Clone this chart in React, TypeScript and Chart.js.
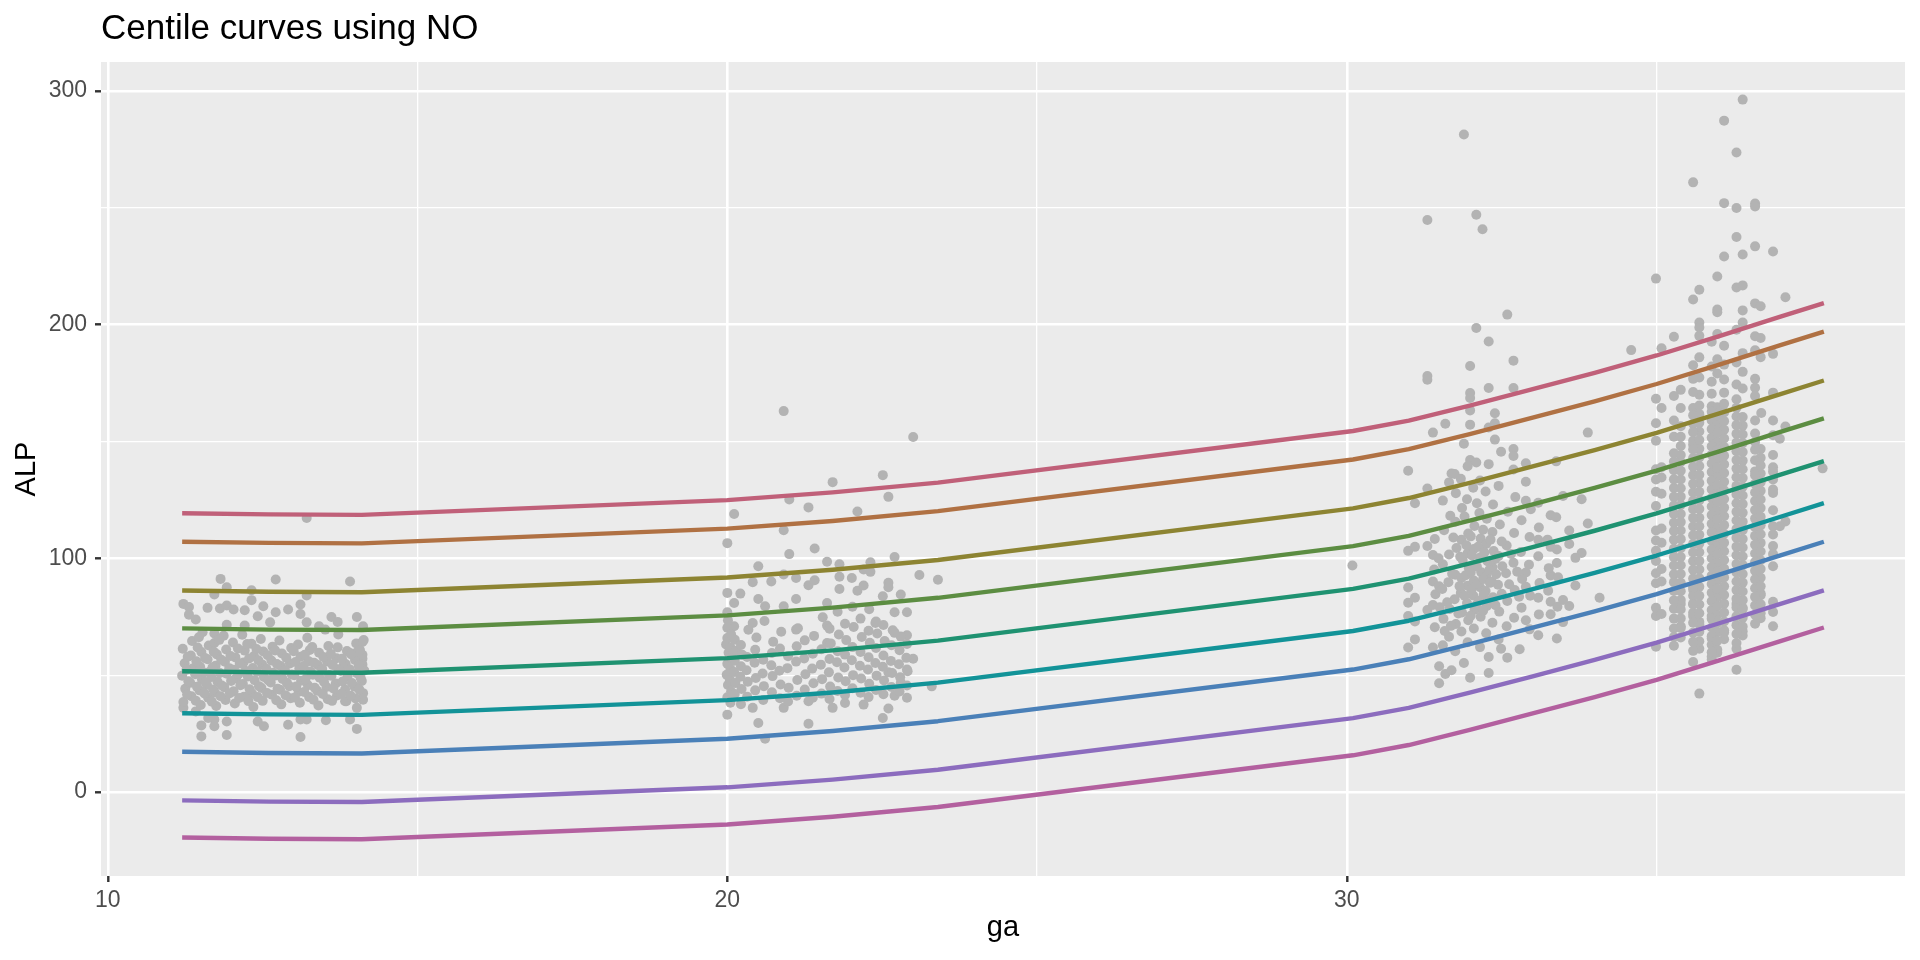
import { useEffect, useRef } from "react";
import { Chart, registerables } from "chart.js";

Chart.register(...registerables);

const FONT = "'Liberation Sans', Arial, Helvetica, sans-serif";

// gestational age values at which the fitted centiles were drawn
const curveGa = [11.2, 12.6, 14.1, 20.0, 21.7, 23.4, 30.1, 31.0, 32.0, 33.0, 34.0, 35.0, 36.0, 37.0, 37.7];

const cent99_6 = [119.3, 118.8, 118.6, 124.9, 128.2, 132.4, 154.5, 158.9, 165.5, 172.4, 179.4, 186.8, 195.0, 203.4, 209.2];
const cent98 = [107.1, 106.6, 106.4, 112.7, 116.0, 120.2, 142.3, 146.7, 153.3, 160.2, 167.2, 174.6, 182.8, 191.2, 197.0];
const cent90 = [86.2, 85.7, 85.5, 91.8, 95.1, 99.3, 121.4, 125.8, 132.4, 139.3, 146.3, 153.7, 161.9, 170.3, 176.1];
const cent75 = [70.0, 69.5, 69.3, 75.6, 78.9, 83.1, 105.2, 109.6, 116.2, 123.1, 130.1, 137.5, 145.7, 154.1, 159.9];
const cent50 = [51.7, 51.2, 51.0, 57.3, 60.6, 64.8, 86.9, 91.3, 97.9, 104.8, 111.8, 119.2, 127.4, 135.8, 141.6];
const cent25 = [33.7, 33.2, 33.0, 39.3, 42.6, 46.8, 68.9, 73.3, 79.9, 86.8, 93.8, 101.2, 109.4, 117.8, 123.6];
const cent10 = [17.2, 16.7, 16.5, 22.8, 26.1, 30.3, 52.4, 56.8, 63.4, 70.3, 77.3, 84.7, 92.9, 101.3, 107.1];
const cent2 = [-3.6, -4.1, -4.3, 2.0, 5.3, 9.5, 31.6, 36.0, 42.6, 49.5, 56.5, 63.9, 72.1, 80.5, 86.3];
const cent0_4 = [-19.5, -20.0, -20.2, -13.9, -10.6, -6.4, 15.7, 20.1, 26.7, 33.6, 40.6, 48.0, 56.2, 64.6, 70.4];

const centiles = [cent0_4, cent2, cent10, cent25, cent50, cent75, cent90, cent98, cent99_6];
const centColors = ["#B3609F", "#8C6CBE", "#4A80B8", "#129398", "#1F9271", "#5C8D42", "#8D8432", "#B07143", "#C06079"];

// observations (ga, ALP)
const cluster1: [number, number][] = [
  [13.21, 117.3],
  [11.82, 91.2], [12.71, 90.9], [13.91, 90.1], [11.92, 87.6], [11.72, 84.5], [12.32, 86.3], [13.21, 84.1],
  [11.22, 80.5], [11.31, 79.2], [11.61, 78.8], [11.81, 78.5], [11.92, 79.8], [12.03, 78.1], [12.21, 77.8],
  [12.32, 82.1], [12.51, 79.5], [12.71, 76.9], [12.91, 78.1], [13.11, 80.2], [13.11, 76.2], [11.31, 75.9],
  [11.42, 73.8], [12.42, 75.2], [13.61, 74.9], [13.71, 72.8], [14.02, 74.9], [14.12, 70.9], [11.92, 71.6],
  [12.21, 71.2], [12.62, 72.6], [13.21, 72.6], [13.41, 70.9], [13.51, 69.5], [13.72, 67.4], [11.53, 68.4],
  [11.72, 67.8], [14.11, 64.2], [13.91, 59.5], [14.02, 59.8], [14.11, 57.0], [14.11, 54.5], [13.81, 54.5],
  [11.22, 36.0], [11.42, 34.5], [11.62, 31.7], [11.72, 31.0], [11.92, 30.2], [12.42, 30.2], [12.52, 28.1],
  [12.91, 28.8], [13.11, 31.0], [13.21, 31.0], [13.52, 30.7], [13.91, 31.0], [14.02, 36.0], [14.02, 27.0],
  [11.51, 28.5], [11.72, 28.1], [11.51, 23.8], [11.92, 24.4], [13.11, 23.5], [13.83, 38.8], [14.12, 39.5],
  [11.22, 38.5], [11.25, 44.2], [11.2, 49.8], [11.24, 55.1], [11.21, 61.3],
  [11.35, 41.0], [11.33, 46.7], [11.37, 52.9], [11.34, 58.4], [11.36, 64.6],
  [11.5, 37.2], [11.48, 43.5], [11.52, 48.1], [11.49, 53.6], [11.51, 59.9], [11.47, 66.2],
  [11.62, 40.3], [11.6, 45.9], [11.64, 51.4], [11.61, 56.8], [11.63, 62.7],
  [11.75, 36.8], [11.73, 42.6], [11.77, 47.3], [11.74, 54.0], [11.76, 58.9], [11.72, 63.8],
  [11.9, 39.4], [11.88, 44.8], [11.92, 50.6], [11.89, 55.7], [11.91, 61.0], [11.87, 66.9],
  [12.05, 37.9], [12.03, 43.1], [12.07, 48.7], [12.04, 52.3], [12.06, 57.6], [12.02, 64.0],
  [12.2, 40.8], [12.18, 46.2], [12.22, 51.9], [12.19, 55.4], [12.21, 60.5], [12.17, 67.3],
  [12.35, 36.4], [12.33, 42.0], [12.37, 47.8], [12.34, 53.1], [12.36, 58.2], [12.32, 63.4],
  [12.5, 39.0], [12.48, 44.5], [12.52, 49.2], [12.49, 54.6], [12.51, 60.1], [12.47, 65.5],
  [12.65, 41.6], [12.63, 46.9], [12.67, 51.0], [12.64, 56.3], [12.66, 62.2],
  [12.8, 37.5], [12.78, 43.8], [12.82, 48.4], [12.79, 53.9], [12.81, 59.3], [12.77, 64.8],
  [12.95, 40.1], [12.93, 45.3], [12.97, 50.3], [12.94, 55.0], [12.96, 61.6],
  [13.1, 38.2], [13.08, 42.9], [13.12, 47.6], [13.09, 52.7], [13.11, 57.9], [13.07, 63.1],
  [13.25, 40.6], [13.23, 45.7], [13.27, 51.6], [13.24, 56.0], [13.26, 60.8], [13.22, 66.0],
  [13.4, 37.0], [13.38, 43.3], [13.42, 48.9], [13.39, 54.3], [13.41, 59.6],
  [13.55, 39.7], [13.53, 44.9], [13.57, 50.1], [13.54, 55.8], [13.56, 62.5],
  [13.7, 41.3], [13.68, 46.4], [13.72, 52.5], [13.69, 57.2], [13.71, 61.9],
  [13.85, 38.8], [13.83, 43.9], [13.87, 49.5], [13.84, 54.8], [13.86, 60.3],
  [14.0, 40.0], [13.98, 45.1], [14.02, 50.8], [13.99, 56.5], [14.01, 63.6],
  [14.12, 42.3], [14.1, 47.5], [14.14, 52.0], [14.11, 58.7], [14.13, 65.0],
  [11.28, 41.7], [11.3, 47.4], [11.27, 52.3], [11.29, 57.9],
  [11.42, 39.1], [11.44, 45.0], [11.41, 50.4], [11.43, 55.9], [11.45, 61.8],
  [11.56, 42.2], [11.58, 47.0], [11.55, 51.1], [11.57, 57.3],
  [11.68, 38.6], [11.7, 43.9], [11.67, 49.2], [11.69, 53.4], [11.71, 60.0],
  [11.82, 41.0], [11.84, 45.6], [11.81, 50.9], [11.83, 56.6], [11.8, 65.1],
  [11.97, 42.3], [11.99, 47.5], [11.96, 53.0], [11.98, 58.2],
  [12.12, 40.2], [12.14, 45.7], [12.11, 50.5], [12.13, 55.0], [12.1, 61.4],
  [12.27, 38.9], [12.29, 44.0], [12.26, 49.4], [12.28, 57.1], [12.25, 63.3],
  [12.42, 40.6], [12.44, 45.3], [12.41, 51.5], [12.43, 56.4], [12.4, 61.2],
  [12.57, 42.4], [12.59, 47.8], [12.56, 52.7], [12.58, 58.5],
  [12.72, 39.3], [12.74, 44.2], [12.71, 49.9], [12.73, 54.8], [12.7, 60.6],
  [12.87, 41.4], [12.89, 46.8], [12.86, 52.1], [12.88, 57.5],
  [13.02, 40.4], [13.04, 45.1], [13.01, 50.0], [13.03, 55.6], [13.0, 60.2],
  [13.17, 42.8], [13.19, 48.2], [13.16, 53.9], [13.18, 58.7],
  [13.32, 39.5], [13.34, 44.6], [13.31, 50.2], [13.33, 55.3], [13.3, 62.0],
  [13.47, 41.9], [13.49, 47.1], [13.46, 52.6], [13.48, 57.8],
  [13.62, 39.0], [13.64, 44.3], [13.61, 49.7], [13.63, 54.4], [13.6, 59.1],
  [13.77, 42.0], [13.79, 47.3], [13.76, 51.8], [13.78, 57.0],
  [13.92, 41.2], [13.94, 46.6], [13.91, 52.4], [13.93, 58.9],
  [14.06, 43.8], [14.08, 48.9], [14.05, 54.1], [14.07, 60.7],
];

const cluster2: [number, number][] = [
  [20.91, 163.0], [23.0, 151.9], [21.7, 132.6], [22.51, 135.6], [22.6, 126.3], [21.0, 125.2], [20.11, 119.0],
  [21.31, 121.8], [22.1, 120.0], [20.91, 112.0], [20.0, 106.5], [21.0, 101.8], [21.41, 104.2], [20.5, 96.6],
  [21.61, 98.5], [21.81, 97.5], [22.31, 98.3], [22.7, 100.6], [20.41, 89.8], [20.71, 90.1], [20.91, 93.1],
  [21.11, 91.6], [21.31, 88.5], [21.41, 90.6], [21.81, 92.1], [22.01, 91.6], [22.2, 95.2], [22.31, 94.2],
  [23.1, 92.9], [23.4, 90.8], [20.0, 85.2], [20.21, 84.9], [20.5, 82.6], [21.11, 82.6], [21.81, 86.9],
  [22.1, 86.1], [22.2, 88.4], [22.6, 89.5], [22.6, 87.6], [20.11, 80.9], [20.61, 79.5], [20.91, 79.5],
  [21.61, 80.9], [22.51, 83.8], [22.8, 84.5], [22.9, 76.9], [22.7, 76.9], [20.0, 76.9], [20.41, 72.3],
  [21.11, 69.5], [21.61, 71.2], [22.39, 72.3], [22.7, 68.1], [22.9, 67.1], [20.0, 65.9], [20.11, 70.9],
  [21.61, 63.8], [23.0, 57.0], [22.9, 52.4], [22.6, 51.2], [23.3, 45.2], [22.8, 46.7], [22.9, 40.3],
  [22.7, 41.2], [22.51, 31.7], [22.6, 35.7], [21.31, 29.2], [20.5, 29.5], [20.61, 22.8], [20.0, 33.1],
  [20.41, 36.0], [20.91, 36.0], [21.7, 36.0], [21.9, 38.1], [22.2, 37.4], [21.31, 38.8],
  [20.0, 40.5], [20.01, 45.8], [19.99, 50.2], [20.0, 54.9], [20.02, 59.6], [19.98, 63.1], [20.0, 70.3], [20.01, 73.5],
  [20.05, 38.2], [20.06, 43.0], [20.04, 48.1], [20.05, 52.6], [20.07, 57.3], [20.05, 61.8], [20.06, 67.5],
  [20.12, 41.9], [20.13, 46.6], [20.11, 51.4], [20.12, 56.2], [20.14, 60.4], [20.12, 65.2],
  [20.22, 37.6], [20.23, 44.1], [20.21, 49.3], [20.22, 53.8], [20.24, 58.7], [20.22, 62.9],
  [20.32, 40.8], [20.33, 47.2], [20.31, 52.1], [20.32, 57.8], [20.34, 69.4],
  [20.45, 43.5], [20.46, 48.8], [20.44, 55.3], [20.45, 60.9], [20.47, 66.1],
  [20.58, 39.4], [20.59, 45.3], [20.57, 50.7], [20.58, 56.6], [20.6, 73.2],
  [20.72, 42.7], [20.73, 49.6], [20.71, 54.2], [20.72, 59.5], [20.74, 64.3],
  [20.85, 40.1], [20.86, 46.0], [20.84, 51.9], [20.85, 61.4], [20.87, 68.6],
  [20.98, 38.7], [20.99, 44.6], [20.97, 53.0], [20.98, 58.1],
  [21.12, 41.2], [21.13, 47.9], [21.11, 55.8], [21.12, 62.4], [21.14, 70.1],
  [21.25, 43.9], [21.26, 50.4], [21.24, 57.1], [21.25, 64.9],
  [21.38, 40.3], [21.39, 46.5], [21.37, 52.8], [21.38, 59.2], [21.4, 66.8],
  [21.52, 42.1], [21.53, 48.3], [21.51, 54.5], [21.52, 61.1], [21.54, 74.8],
  [21.65, 39.8], [21.66, 45.1], [21.64, 51.2], [21.65, 56.9], [21.67, 63.6], [21.65, 69.9],
  [21.78, 43.2], [21.79, 49.0], [21.77, 55.5], [21.78, 60.2], [21.8, 67.4], [21.78, 77.1],
  [21.9, 41.5], [21.91, 47.4], [21.89, 53.3], [21.9, 58.8], [21.92, 65.0], [21.9, 72.0],
  [22.02, 44.4], [22.03, 50.0], [22.01, 56.4], [22.02, 62.0], [22.04, 70.6], [22.02, 79.3],
  [22.15, 42.5], [22.16, 48.6], [22.14, 54.0], [22.15, 59.9], [22.17, 66.3], [22.15, 74.2],
  [22.28, 40.6], [22.29, 46.3], [22.27, 52.4], [22.28, 57.7], [22.3, 63.9], [22.28, 69.0], [22.29, 78.2],
  [22.4, 43.7], [22.41, 49.8], [22.39, 55.2], [22.4, 61.6], [22.42, 67.8], [22.4, 73.0],
  [22.52, 41.8], [22.53, 47.7], [22.51, 53.6], [22.52, 58.4], [22.54, 64.6], [22.52, 71.5],
  [22.65, 44.9], [22.66, 50.9], [22.64, 56.1], [22.65, 62.8], [22.67, 69.2],
  [22.78, 43.0], [22.79, 49.1], [22.77, 54.7], [22.78, 60.7], [22.8, 66.5],
  [22.9, 45.6], [22.91, 51.7], [22.89, 57.4], [22.9, 63.3],
];

const cluster3: [number, number][] = [
  [30.09, 96.9],
  [31.89, 281.4], [31.3, 244.8], [32.09, 247.0], [32.19, 240.8], [32.59, 204.3], [32.09, 198.6], [32.29, 192.8],
  [34.59, 189.1], [32.69, 184.6], [31.99, 182.3], [31.3, 178.0], [31.3, 176.4], [32.29, 172.9], [32.69, 172.9],
  [31.99, 170.7], [31.99, 168.6], [31.99, 163.3], [32.39, 162.1], [31.59, 157.6], [31.99, 157.2], [32.29, 156.0],
  [32.39, 157.8], [31.39, 153.8], [33.89, 153.8], [32.39, 150.8], [31.89, 149.0], [32.49, 145.6], [32.69, 146.8],
  [32.69, 143.8], [31.99, 142.1], [32.09, 141.0], [32.29, 140.3], [30.99, 137.5], [32.89, 140.7], [33.38, 141.5],
  [31.69, 136.3], [32.69, 138.0], [32.89, 132.8], [31.3, 129.9], [31.1, 123.6], [33.49, 126.7], [33.79, 125.3],
  [32.89, 124.6], [33.09, 123.8], [33.29, 118.4], [33.38, 117.6], [33.89, 114.9], [33.59, 111.9], [33.59, 106.1],
  [33.79, 102.3], [33.69, 100.2], [30.99, 103.2], [31.1, 104.9], [31.3, 105.3], [31.39, 101.4], [31.39, 90.1],
  [31.49, 88.0], [30.99, 87.5], [30.99, 81.0], [31.1, 83.1], [30.99, 75.3], [31.1, 73.0], [31.3, 77.9],
  [31.39, 80.0], [30.99, 61.8], [31.1, 65.3], [31.39, 61.8], [31.49, 53.8], [31.49, 46.5], [31.59, 50.5],
  [31.69, 52.1], [31.99, 48.9], [32.29, 50.9], [31.89, 55.2], [32.29, 57.8], [32.59, 57.5], [32.79, 61.1],
  [32.49, 61.3], [33.09, 67.1], [33.39, 65.7], [33.49, 72.7], [33.59, 79.6], [34.08, 83.1], [33.69, 88.4],
  [33.39, 98.0], [33.29, 92.7], [33.29, 104.9], [33.09, 107.9], [33.49, 82.2], [33.29, 81.4], [33.29, 76.1],
  [33.09, 83.1], [32.89, 73.5], [32.89, 87.8], [32.89, 93.9],
  [31.42, 70.5], [31.43, 84.6], [31.41, 95.2], [31.42, 108.3],
  [31.55, 62.8], [31.56, 74.1], [31.54, 86.9], [31.55, 97.5], [31.57, 112.0], [31.55, 124.7],
  [31.65, 66.4], [31.66, 78.3], [31.64, 89.8], [31.65, 101.6], [31.67, 118.2], [31.65, 132.5],
  [31.75, 60.2], [31.76, 71.9], [31.74, 82.5], [31.75, 93.0], [31.77, 104.4], [31.75, 115.7], [31.76, 127.9], [31.74, 136.1],
  [31.85, 68.7], [31.86, 76.8], [31.84, 85.2], [31.85, 91.6], [31.87, 99.3], [31.85, 107.9], [31.86, 121.5], [31.84, 134.0],
  [31.95, 64.1], [31.96, 73.5], [31.94, 80.9], [31.95, 88.3], [31.97, 95.7], [31.95, 102.2], [31.96, 110.6], [31.94, 125.3], [31.95, 139.4],
  [32.05, 70.0], [32.06, 78.0], [32.04, 84.1], [32.05, 90.5], [32.07, 97.0], [32.05, 104.0], [32.06, 113.8], [32.04, 130.2],
  [32.15, 62.0], [32.16, 75.0], [32.14, 82.0], [32.15, 87.6], [32.17, 94.0], [32.15, 100.3], [32.16, 108.5], [32.14, 119.4], [32.15, 133.3],
  [32.25, 67.9], [32.26, 79.6], [32.24, 86.0], [32.25, 92.4], [32.27, 98.8], [32.25, 106.1], [32.26, 116.9], [32.24, 128.6],
  [32.35, 72.4], [32.36, 83.3], [32.34, 90.0], [32.35, 96.2], [32.37, 103.1], [32.35, 111.3], [32.36, 123.0],
  [32.45, 65.3], [32.46, 77.2], [32.44, 88.7], [32.45, 101.0], [32.47, 114.5], [32.45, 131.0],
  [32.58, 70.9], [32.59, 81.7], [32.57, 93.6], [32.58, 105.5], [32.6, 119.9],
  [32.7, 74.6], [32.71, 86.4], [32.69, 98.1], [32.7, 110.8], [32.72, 126.2],
  [32.82, 78.9], [32.83, 91.2], [32.81, 102.7], [32.82, 116.3],
  [32.95, 69.6], [32.96, 84.0], [32.94, 97.3], [32.95, 109.1], [32.97, 121.0],
  [33.1, 76.0], [33.11, 89.4], [33.09, 100.9], [33.1, 113.2],
  [33.25, 86.1], [33.26, 95.8], [33.24, 108.0],
  [33.4, 79.3], [33.41, 91.9], [33.39, 103.8],
  [31.62, 81.2], [31.7, 93.4], [31.72, 108.9], [31.8, 76.4], [31.82, 88.1], [31.83, 100.7], [31.9, 84.0],
  [31.92, 92.8], [31.93, 105.6], [31.9, 117.9], [32.0, 75.4], [32.01, 86.7], [32.0, 93.9], [32.02, 101.2],
  [32.0, 109.4], [32.1, 80.3], [32.11, 89.0], [32.1, 96.4], [32.12, 104.9], [32.1, 123.6], [32.2, 77.6],
  [32.21, 84.6], [32.2, 91.1], [32.22, 102.5], [32.2, 112.2], [32.3, 82.0], [32.31, 89.5], [32.3, 95.0],
  [32.32, 108.0], [32.4, 79.9], [32.41, 93.2], [32.4, 99.7], [32.5, 84.8], [32.51, 96.6], [32.5, 107.2],
  [31.58, 68.9], [31.68, 71.1], [32.62, 88.9], [32.65, 101.9], [32.75, 94.3], [32.78, 83.6], [31.5, 79.1], [31.48, 100.0],
];

const cluster4: [number, number][] = [
  [36.39, 296.3], [36.09, 287.3], [36.29, 273.7], [35.59, 260.9], [36.09, 252.0], [36.29, 249.9], [36.59, 251.8],
  [36.59, 250.6], [36.29, 237.5], [36.09, 229.2], [36.39, 230.0], [36.59, 233.5], [36.88, 231.3], [34.99, 219.7],
  [35.98, 220.6], [35.69, 214.9], [35.59, 210.8], [36.29, 215.9], [36.39, 216.8], [37.08, 211.7], [36.59, 209.1],
  [36.68, 207.9], [35.98, 206.5], [35.98, 205.3], [36.39, 206.1], [35.69, 200.9], [35.69, 198.8], [36.39, 200.9],
  [35.28, 194.8], [35.08, 189.9], [35.69, 195.2], [35.98, 196.0], [36.29, 197.8], [36.59, 195.0], [36.68, 194.3],
  [35.89, 192.7], [36.09, 191.0], [35.59, 182.6], [35.89, 182.1], [35.98, 185.2], [35.98, 179.1], [36.29, 183.8],
  [36.39, 187.8], [36.59, 189.0], [36.68, 186.1], [36.88, 187.5], [35.59, 176.8], [35.69, 177.4], [36.09, 176.5],
  [36.09, 170.9], [36.29, 174.4], [36.39, 172.7], [36.59, 176.8], [36.59, 173.0], [36.59, 169.5], [36.88, 170.9],
  [35.39, 172.1], [35.28, 169.5], [34.99, 168.3], [35.08, 164.3], [35.39, 164.3], [35.59, 164.3], [35.69, 170.0],
  [35.89, 170.4], [35.89, 165.1], [36.69, 162.2], [36.88, 159.0], [37.08, 156.4], [36.99, 151.2], [34.99, 157.8],
  [34.99, 150.3], [35.28, 159.0], [35.28, 152.0], [35.39, 152.0], [35.39, 144.2], [35.59, 148.6], [37.68, 138.5],
  [36.88, 144.2], [36.88, 139.0], [36.68, 146.8], [36.59, 159.0], [36.59, 137.2], [36.68, 136.3],
  [34.99, 138.1], [35.08, 139.0], [34.99, 133.7], [35.08, 134.6], [34.99, 128.5], [35.08, 127.6], [35.39, 133.7],
  [34.99, 122.4], [34.99, 111.9], [35.08, 112.8], [34.99, 107.6], [35.08, 106.7], [34.99, 103.2], [34.99, 98.9],
  [34.99, 93.6], [35.08, 95.4], [34.99, 89.3], [35.08, 90.1], [34.99, 78.8], [34.99, 75.3], [35.08, 76.2],
  [34.99, 62.2], [35.39, 70.9], [35.39, 80.5], [35.59, 86.6], [35.59, 80.5], [35.59, 75.3], [35.69, 71.8],
  [35.59, 55.6], [35.69, 61.3], [35.69, 42.1], [35.89, 75.3], [35.89, 65.7], [35.89, 57.9], [35.98, 59.6],
  [36.09, 68.3], [36.29, 61.3], [36.29, 52.3], [36.29, 80.5], [36.39, 78.8], [36.39, 68.8], [36.68, 74.4],
  [36.68, 84.9], [36.88, 81.4], [36.88, 77.0], [36.88, 70.9], [37.08, 115.8], [36.99, 113.7], [36.88, 113.7],
  [36.88, 110.2], [36.88, 105.3], [36.88, 96.6], [36.88, 129.4], [36.88, 133.7], [36.88, 137.2],
  [35.28, 62.6], [35.28, 70.0], [35.28, 78.4], [35.28, 86.0], [35.28, 93.2], [35.28, 100.5], [35.28, 108.0],
  [35.28, 115.2], [35.28, 122.6], [35.28, 130.1], [35.28, 137.7], [35.28, 145.0],
  [35.39, 66.1], [35.39, 74.3], [35.39, 82.2], [35.39, 89.5], [35.39, 97.0], [35.39, 104.3], [35.39, 111.9],
  [35.39, 119.0], [35.39, 126.4], [35.39, 141.2], [35.39, 156.5],
  [35.59, 60.4], [35.59, 68.2], [35.59, 76.7], [35.59, 84.0], [35.59, 91.4], [35.59, 98.8], [35.59, 106.2],
  [35.59, 113.6], [35.59, 121.0], [35.59, 128.2], [35.59, 135.6], [35.59, 142.9], [35.59, 150.3], [35.59, 157.6], [35.59, 171.2],
  [35.69, 64.5], [35.69, 72.8], [35.69, 80.2], [35.69, 87.8], [35.69, 95.2], [35.69, 102.6], [35.69, 110.1],
  [35.69, 117.4], [35.69, 124.8], [35.69, 132.2], [35.69, 139.5], [35.69, 146.9], [35.69, 154.3], [35.69, 161.7], [35.69, 186.0],
  [35.89, 56.7], [35.89, 63.0], [35.89, 70.4], [35.89, 77.9], [35.89, 85.3], [35.89, 92.6], [35.89, 100.0],
  [35.89, 107.4], [35.89, 114.8], [35.89, 122.2], [35.89, 129.5], [35.89, 136.9], [35.89, 144.3], [35.89, 151.6],
  [35.89, 159.0], [35.89, 175.6],
  [35.98, 60.9], [35.98, 68.5], [35.98, 75.9], [35.98, 83.3], [35.98, 90.7], [35.98, 98.1], [35.98, 105.5],
  [35.98, 112.9], [35.98, 120.3], [35.98, 127.7], [35.98, 135.1], [35.98, 142.5], [35.98, 149.8], [35.98, 157.2], [35.98, 164.6],
  [36.09, 65.4], [36.09, 73.0], [36.09, 80.6], [36.09, 88.0], [36.09, 95.6], [36.09, 103.0], [36.09, 110.5],
  [36.09, 118.0], [36.09, 125.4], [36.09, 132.8], [36.09, 140.2], [36.09, 147.6], [36.09, 155.0], [36.09, 162.4], [36.09, 182.9],
  [36.29, 63.8], [36.29, 71.4], [36.29, 79.0], [36.29, 86.4], [36.29, 93.9], [36.29, 101.3], [36.29, 108.8],
  [36.29, 116.2], [36.29, 123.6], [36.29, 131.0], [36.29, 138.4], [36.29, 145.8], [36.29, 153.3], [36.29, 160.7], [36.29, 168.1],
  [36.39, 67.0], [36.39, 74.6], [36.39, 82.1], [36.39, 89.6], [36.39, 97.1], [36.39, 104.6], [36.39, 112.0],
  [36.39, 119.5], [36.39, 126.9], [36.39, 134.4], [36.39, 141.8], [36.39, 149.3], [36.39, 156.8], [36.39, 179.8],
  [36.59, 72.0], [36.59, 79.8], [36.59, 87.2], [36.59, 94.7], [36.59, 102.1], [36.59, 109.6], [36.59, 117.0],
  [36.59, 124.5], [36.59, 131.9], [36.59, 146.5], [36.59, 153.4],
  [36.68, 76.5], [36.68, 84.2], [36.68, 91.7], [36.68, 99.2], [36.68, 106.6], [36.68, 114.1], [36.68, 121.5],
  [36.68, 128.9], [36.68, 143.0],
  [36.88, 101.8], [36.88, 120.6], [36.88, 128.0], [36.88, 152.7],
  [35.28, 66.3], [35.28, 74.2], [35.28, 82.0], [35.28, 89.8], [35.28, 96.9], [35.28, 104.1], [35.28, 111.7],
  [35.28, 119.0], [35.28, 126.3], [35.28, 133.8], [35.28, 141.4],
  [35.39, 70.2], [35.39, 78.1], [35.39, 85.9], [35.39, 93.3], [35.39, 100.6], [35.39, 108.2], [35.39, 115.5],
  [35.39, 122.8], [35.39, 130.0], [35.39, 137.5], [35.39, 148.1],
  [35.59, 64.3], [35.59, 72.4], [35.59, 80.3], [35.59, 87.7], [35.59, 95.1], [35.59, 102.5], [35.59, 109.9],
  [35.59, 117.3], [35.59, 124.6], [35.59, 131.9], [35.59, 139.2], [35.59, 146.6], [35.59, 154.0], [35.59, 161.2],
  [35.69, 68.6], [35.69, 76.5], [35.69, 84.0], [35.69, 91.5], [35.69, 98.9], [35.69, 106.3], [35.69, 113.7],
  [35.69, 121.1], [35.69, 128.5], [35.69, 135.8], [35.69, 143.2], [35.69, 150.6], [35.69, 158.0], [35.69, 165.4],
  [35.89, 59.8], [35.89, 66.7], [35.89, 74.1], [35.89, 81.6], [35.89, 89.0], [35.89, 96.3], [35.89, 103.7],
  [35.89, 111.1], [35.89, 118.5], [35.89, 125.8], [35.89, 133.2], [35.89, 140.6], [35.89, 147.9], [35.89, 155.3], [35.89, 162.7],
  [35.98, 64.7], [35.98, 72.2], [35.98, 79.6], [35.98, 87.0], [35.98, 94.4], [35.98, 101.8], [35.98, 109.2],
  [35.98, 116.6], [35.98, 124.0], [35.98, 131.4], [35.98, 138.8], [35.98, 146.1], [35.98, 153.5], [35.98, 160.9],
  [36.09, 69.2], [36.09, 76.8], [36.09, 84.3], [36.09, 91.8], [36.09, 99.3], [36.09, 106.7], [36.09, 114.2],
  [36.09, 121.7], [36.09, 129.1], [36.09, 136.5], [36.09, 143.9], [36.09, 151.3], [36.09, 158.7], [36.09, 166.1],
  [36.29, 67.6], [36.29, 75.2], [36.29, 82.7], [36.29, 90.1], [36.29, 97.6], [36.29, 105.0], [36.29, 112.5],
  [36.29, 119.9], [36.29, 127.3], [36.29, 134.7], [36.29, 142.1], [36.29, 149.5], [36.29, 157.0], [36.29, 164.4],
  [36.39, 70.8], [36.39, 78.3], [36.39, 85.8], [36.39, 93.3], [36.39, 100.8], [36.39, 108.3], [36.39, 115.7],
  [36.39, 123.2], [36.39, 130.6], [36.39, 138.1], [36.39, 145.5], [36.39, 153.0], [36.39, 160.5],
  [36.59, 75.9], [36.59, 83.5], [36.59, 91.0], [36.59, 98.4], [36.59, 105.8], [36.59, 113.3], [36.59, 120.7],
  [36.59, 128.2], [36.59, 135.6], [36.59, 142.0], [36.59, 149.8],
  [36.68, 80.3], [36.68, 88.0], [36.68, 95.4], [36.68, 102.9], [36.68, 110.3], [36.68, 117.8], [36.68, 125.2],
  [36.68, 132.6], [36.68, 139.7],
];

const xGrid = [10, 15, 20, 25, 30, 35];
const xLabels = [10, 20, 30];
const yGrid = [0, 50, 100, 150, 200, 250, 300];
const yLabels = [0, 100, 200, 300];

const panelBackground = {
  id: "panelBackground",
  beforeDraw(chart: any) {
    const { ctx, chartArea } = chart;
    ctx.save();
    ctx.fillStyle = "#EBEBEB";
    ctx.fillRect(chartArea.left, chartArea.top, chartArea.right - chartArea.left, chartArea.bottom - chartArea.top);
    ctx.restore();
  },
};

export default function App() {
  const canvasRef = useRef<HTMLCanvasElement>(null);

  useEffect(() => {
    if (!canvasRef.current) return;

    const points = [...cluster1, ...cluster2, ...cluster3, ...cluster4].map(([x, y]) => ({ x, y }));

    const lineSets = centiles.map((vals, i) => ({
      type: "scatter" as const,
      data: curveGa.map((x, j) => ({ x, y: vals[j] })),
      showLine: true,
      borderColor: centColors[i],
      borderWidth: 4.4,
      pointRadius: 0,
      tension: 0,
      borderJoinStyle: "round" as const,
    }));

    const chart = new Chart(canvasRef.current, {
      type: "scatter",
      data: {
        datasets: [
          ...lineSets,
          {
            data: points,
            pointRadius: 5,
            pointBackgroundColor: "#B3B3B3",
            pointBorderWidth: 0,
            showLine: false,
          },
        ],
      },
      options: {
        animation: false,
        responsive: false,
        events: [],
        layout: { padding: { left: 0, right: 15, top: 0, bottom: 0 } },
        plugins: {
          legend: { display: false },
          tooltip: { enabled: false },
          title: {
            display: true,
            text: "Centile curves using NO",
            align: "start",
            fullSize: false,
            color: "#000000",
            font: { family: FONT, size: 35, weight: "normal" },
            padding: { top: 8, bottom: 12 },
          },
        },
        scales: {
          x: {
            type: "linear",
            min: 9.89,
            max: 39.01,
            afterBuildTicks: (s: any) => {
              s.ticks = xGrid.map((v) => ({ value: v }));
            },
            afterFit: (s: any) => {
              s.height = 84;
            },
            border: { display: false },
            grid: {
              color: "#FFFFFF",
              lineWidth: (c: any) => (xLabels.includes(c.tick?.value) ? 2.6 : 1.3),
              tickColor: (c: any) => (xLabels.includes(c.tick?.value) ? "#333333" : "rgba(0,0,0,0)"),
              tickLength: 6,
              tickWidth: 2.4,
            },
            ticks: {
              autoSkip: false,
              maxRotation: 0,
              padding: 5,
              color: "#4D4D4D",
              font: { family: FONT, size: 23 },
              callback: (v: any) => (xLabels.includes(v) ? String(v) : ""),
            },
            title: {
              display: true,
              text: "ga",
              color: "#000000",
              font: { family: FONT, size: 29 },
              padding: { top: 0, bottom: 15 },
            },
          },
          y: {
            type: "linear",
            min: -35.95,
            max: 312.4,
            afterBuildTicks: (s: any) => {
              s.ticks = yGrid.map((v) => ({ value: v }));
            },
            afterFit: (s: any) => {
              s.width = 101;
            },
            border: { display: false },
            grid: {
              color: "#FFFFFF",
              lineWidth: (c: any) => (yLabels.includes(c.tick?.value) ? 2.6 : 1.3),
              tickColor: (c: any) => (yLabels.includes(c.tick?.value) ? "#333333" : "rgba(0,0,0,0)"),
              tickLength: 6,
              tickWidth: 2.4,
            },
            ticks: {
              autoSkip: false,
              padding: 8,
              color: "#4D4D4D",
              font: { family: FONT, size: 23 },
              callback: (v: any) => (yLabels.includes(v) ? String(v) : ""),
            },
            title: {
              display: true,
              text: "ALP",
              color: "#000000",
              font: { family: FONT, size: 29 },
              padding: { top: 10, bottom: 0 },
            },
          },
        },
      },
      plugins: [panelBackground],
    } as any);

    return () => {
      chart.destroy();
    };
  }, []);

  return (
    <div style={{ position: "absolute", left: 0, top: 0, width: 1920, height: 960, background: "#FFFFFF" }}>
      <canvas ref={canvasRef} width={1920} height={960} style={{ width: 1920, height: 960 }} />
    </div>
  );
}
